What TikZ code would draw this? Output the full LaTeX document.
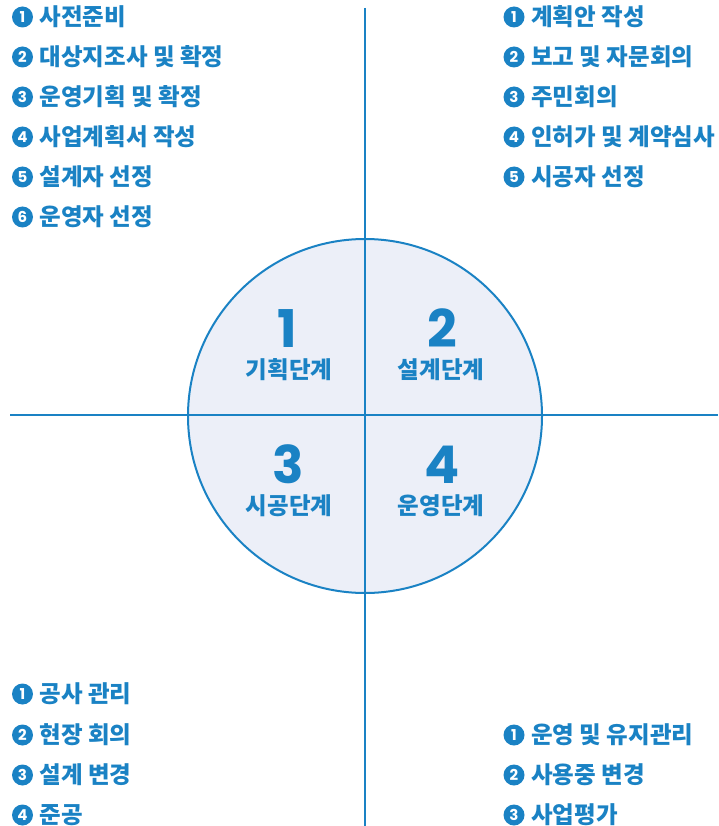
\documentclass[tikz,border=0pt]{standalone}
\usepackage{fontspec}
\newfontfamily\kr{Noto Sans CJK KR}
\newfontfamily\bignum{Poppins}
\definecolor{myblue}{RGB}{26,130,196}
\definecolor{myfill}{RGB}{236,239,248}
\newcommand\listitem[5]{%
  \node[numdot] (#1n) at (#2,#3) {#4};
  \node[lbl] (#1t) at ({#2+17},{#3+8.5}) {#5};
}
\begin{document}
\begin{tikzpicture}[x=1pt,y=-1pt,
  ln/.style={draw=myblue,line width=2pt},
  numdot/.style={circle,fill=myblue,text=white,inner sep=0pt,minimum size=21pt,
    font=\bignum\bfseries\fontsize{15}{15}\selectfont},
  lbl/.style={anchor=base west,text=myblue,inner sep=0pt,
    font=\kr\bfseries\fontsize{23.5}{23.5}\selectfont},
  stagenum/.style={anchor=base,text=myblue,inner sep=0pt,text height=36pt,text depth=0pt,
    font=\bignum\bfseries\fontsize{52}{52}\selectfont},
  stagelbl/.style={anchor=base,text=myblue,inner sep=0pt,text height=19pt,text depth=2pt,
    font=\kr\bfseries\fontsize{23.5}{23.5}\selectfont}]
\useasboundingbox (0,0) rectangle (718,826);
\node[circle,fill=myfill,minimum size=354pt,inner sep=0pt] (disc) at (365,416) {};
\coordinate (vt) at (365,8);
\coordinate (vb) at (365,826);
\coordinate (hl) at (10,415);
\coordinate (hr) at (718,415);
\draw[ln] (vt) -- (vb);
\draw[ln] (hl) -- (hr);
\node[circle,draw=myblue,line width=2pt,minimum size=354pt,inner sep=0pt] (ring) at (365,416) {};

\node[stagenum] (s1) at (287,347.5) {1};
\node[stagelbl] (s1l) at (289,378.5) {기획단계};
\node[stagenum] (s2) at (442,347.5) {2};
\node[stagelbl] (s2l) at (441,378.5) {설계단계};
\node[stagenum] (s3) at (288,483.5) {3};
\node[stagelbl] (s3l) at (289,514.5) {시공단계};
\node[stagenum] (s4) at (442,483.5) {4};
\node[stagelbl] (s4l) at (441,514.5) {운영단계};

\listitem{a1}{22.5}{17}{1}{사전준비}
\listitem{a2}{22.5}{57}{2}{대상지조사 및 확정}
\listitem{a3}{22.5}{97}{3}{운영기획 및 확정}
\listitem{a4}{22.5}{137}{4}{사업계획서 작성}
\listitem{a5}{22.5}{177}{5}{설계자 선정}
\listitem{a6}{22.5}{217}{6}{운영자 선정}

\listitem{b1}{514}{17}{1}{계획안 작성}
\listitem{b2}{514}{57}{2}{보고 및 자문회의}
\listitem{b3}{514}{97}{3}{주민회의}
\listitem{b4}{514}{137}{4}{인허가 및 계약심사}
\listitem{b5}{514}{177}{5}{시공자 선정}

\listitem{c1}{22.5}{694}{1}{공사 관리}
\listitem{c2}{22.5}{735}{2}{현장 회의}
\listitem{c3}{22.5}{775}{3}{설계 변경}
\listitem{c4}{22.5}{815}{4}{준공}

\listitem{d1}{514}{735}{1}{운영 및 유지관리}
\listitem{d2}{514}{775}{2}{사용중 변경}
\listitem{d3}{514}{815}{3}{사업평가}
\end{tikzpicture}
\end{document}
